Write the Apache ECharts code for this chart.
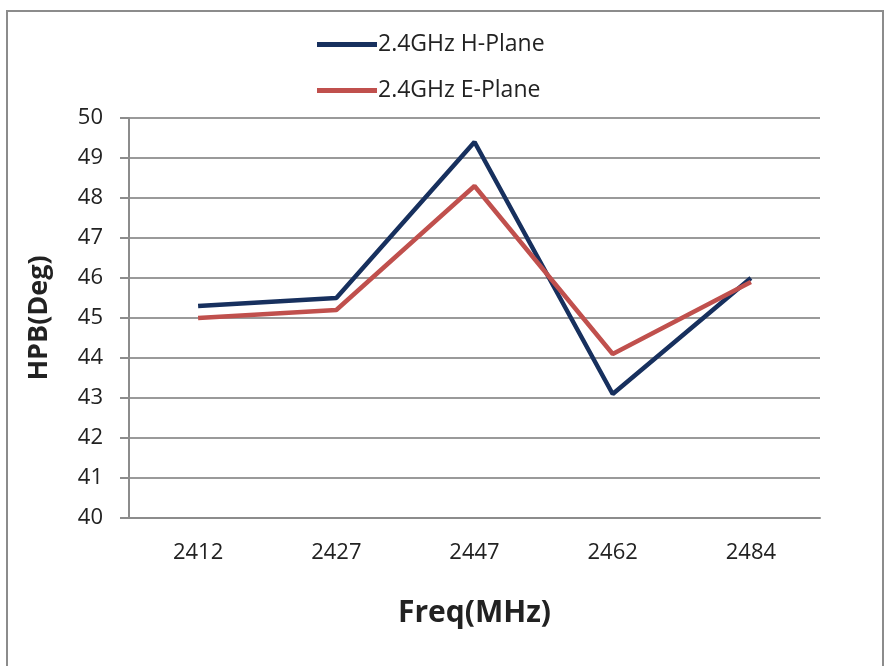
<!DOCTYPE html>
<html>
<head>
<meta charset="utf-8">
<script src="https://cdn.jsdelivr.net/npm/echarts@6/dist/echarts.min.js"></script>
<style>
  html, body { margin: 0; padding: 0; background: #fff; }
  #main { width: 887px; height: 666px; }
</style>
</head>
<body>
<div id="main"></div>
<script>
var freqs = ['2412', '2427', '2447', '2462', '2484'];
var hPlane = [45.3, 45.5, 49.4, 43.1, 46.0];
var ePlane = [45.0, 45.2, 48.3, 44.1, 45.9];
var yTicks = [40, 41, 42, 43, 44, 45, 46, 47, 48, 49, 50];

var myChart = echarts.init(document.getElementById('main'));
var font = '"Open Sans", "Noto Sans", sans-serif';

var option = {
    backgroundColor: '#fff',
    textStyle: { fontFamily: font },
    graphic: [{
        type: 'rect',
        shape: { x: 7, y: 11, width: 876, height: 660 },
        style: { fill: 'none', stroke: '#8c8c8c', lineWidth: 2 },
        silent: true
    }],
    legend: {
        orient: 'vertical',
        left: 312,
        top: 28,
        itemGap: 23,
        itemWidth: 60,
        itemHeight: 5,
        icon: 'rect',
        textStyle: { fontSize: 23, color: '#222', fontFamily: font, padding: [0, 0, 0, -4] },
        data: ['2.4GHz H-Plane', '2.4GHz E-Plane']
    },
    grid: {
        left: 129,
        right: 67,
        top: 118,
        bottom: 148
    },
    xAxis: {
        type: 'category',
        data: freqs,
        boundaryGap: true,
        name: 'Freq(MHz)',
        nameLocation: 'middle',
        nameGap: 80,
        nameTextStyle: { fontSize: 30, fontWeight: 'bold', color: '#222', fontFamily: font },
        axisLine: { lineStyle: { color: '#8c8c8c', width: 2 } },
        axisTick: { show: false },
        axisLabel: { fontSize: 22, color: '#222', margin: 24 }
    },
    yAxis: {
        type: 'value',
        min: yTicks[0],
        max: yTicks[yTicks.length - 1],
        interval: 1,
        name: 'HPB(Deg)',
        nameLocation: 'middle',
        nameGap: 76,
        nameTextStyle: { fontSize: 27, fontWeight: 'bold', color: '#222', fontFamily: font },
        axisLine: { show: true, lineStyle: { color: '#8c8c8c', width: 2 } },
        axisTick: { show: true, inside: false, length: 9, lineStyle: { color: '#8c8c8c', width: 2 } },
        axisLabel: { fontSize: 22, color: '#222', margin: 26 },
        splitLine: { lineStyle: { color: '#9a9a9a', width: 2 } }
    },
    series: [
        {
            name: '2.4GHz H-Plane',
            type: 'line',
            data: hPlane,
            symbol: 'none',
            lineStyle: { color: '#17305e', width: 4.5 },
            itemStyle: { color: '#17305e' }
        },
        {
            name: '2.4GHz E-Plane',
            type: 'line',
            data: ePlane,
            symbol: 'none',
            lineStyle: { color: '#c0504d', width: 4.5 },
            itemStyle: { color: '#c0504d' }
        }
    ]
};

option && myChart.setOption(option);
</script>
</body>
</html>
